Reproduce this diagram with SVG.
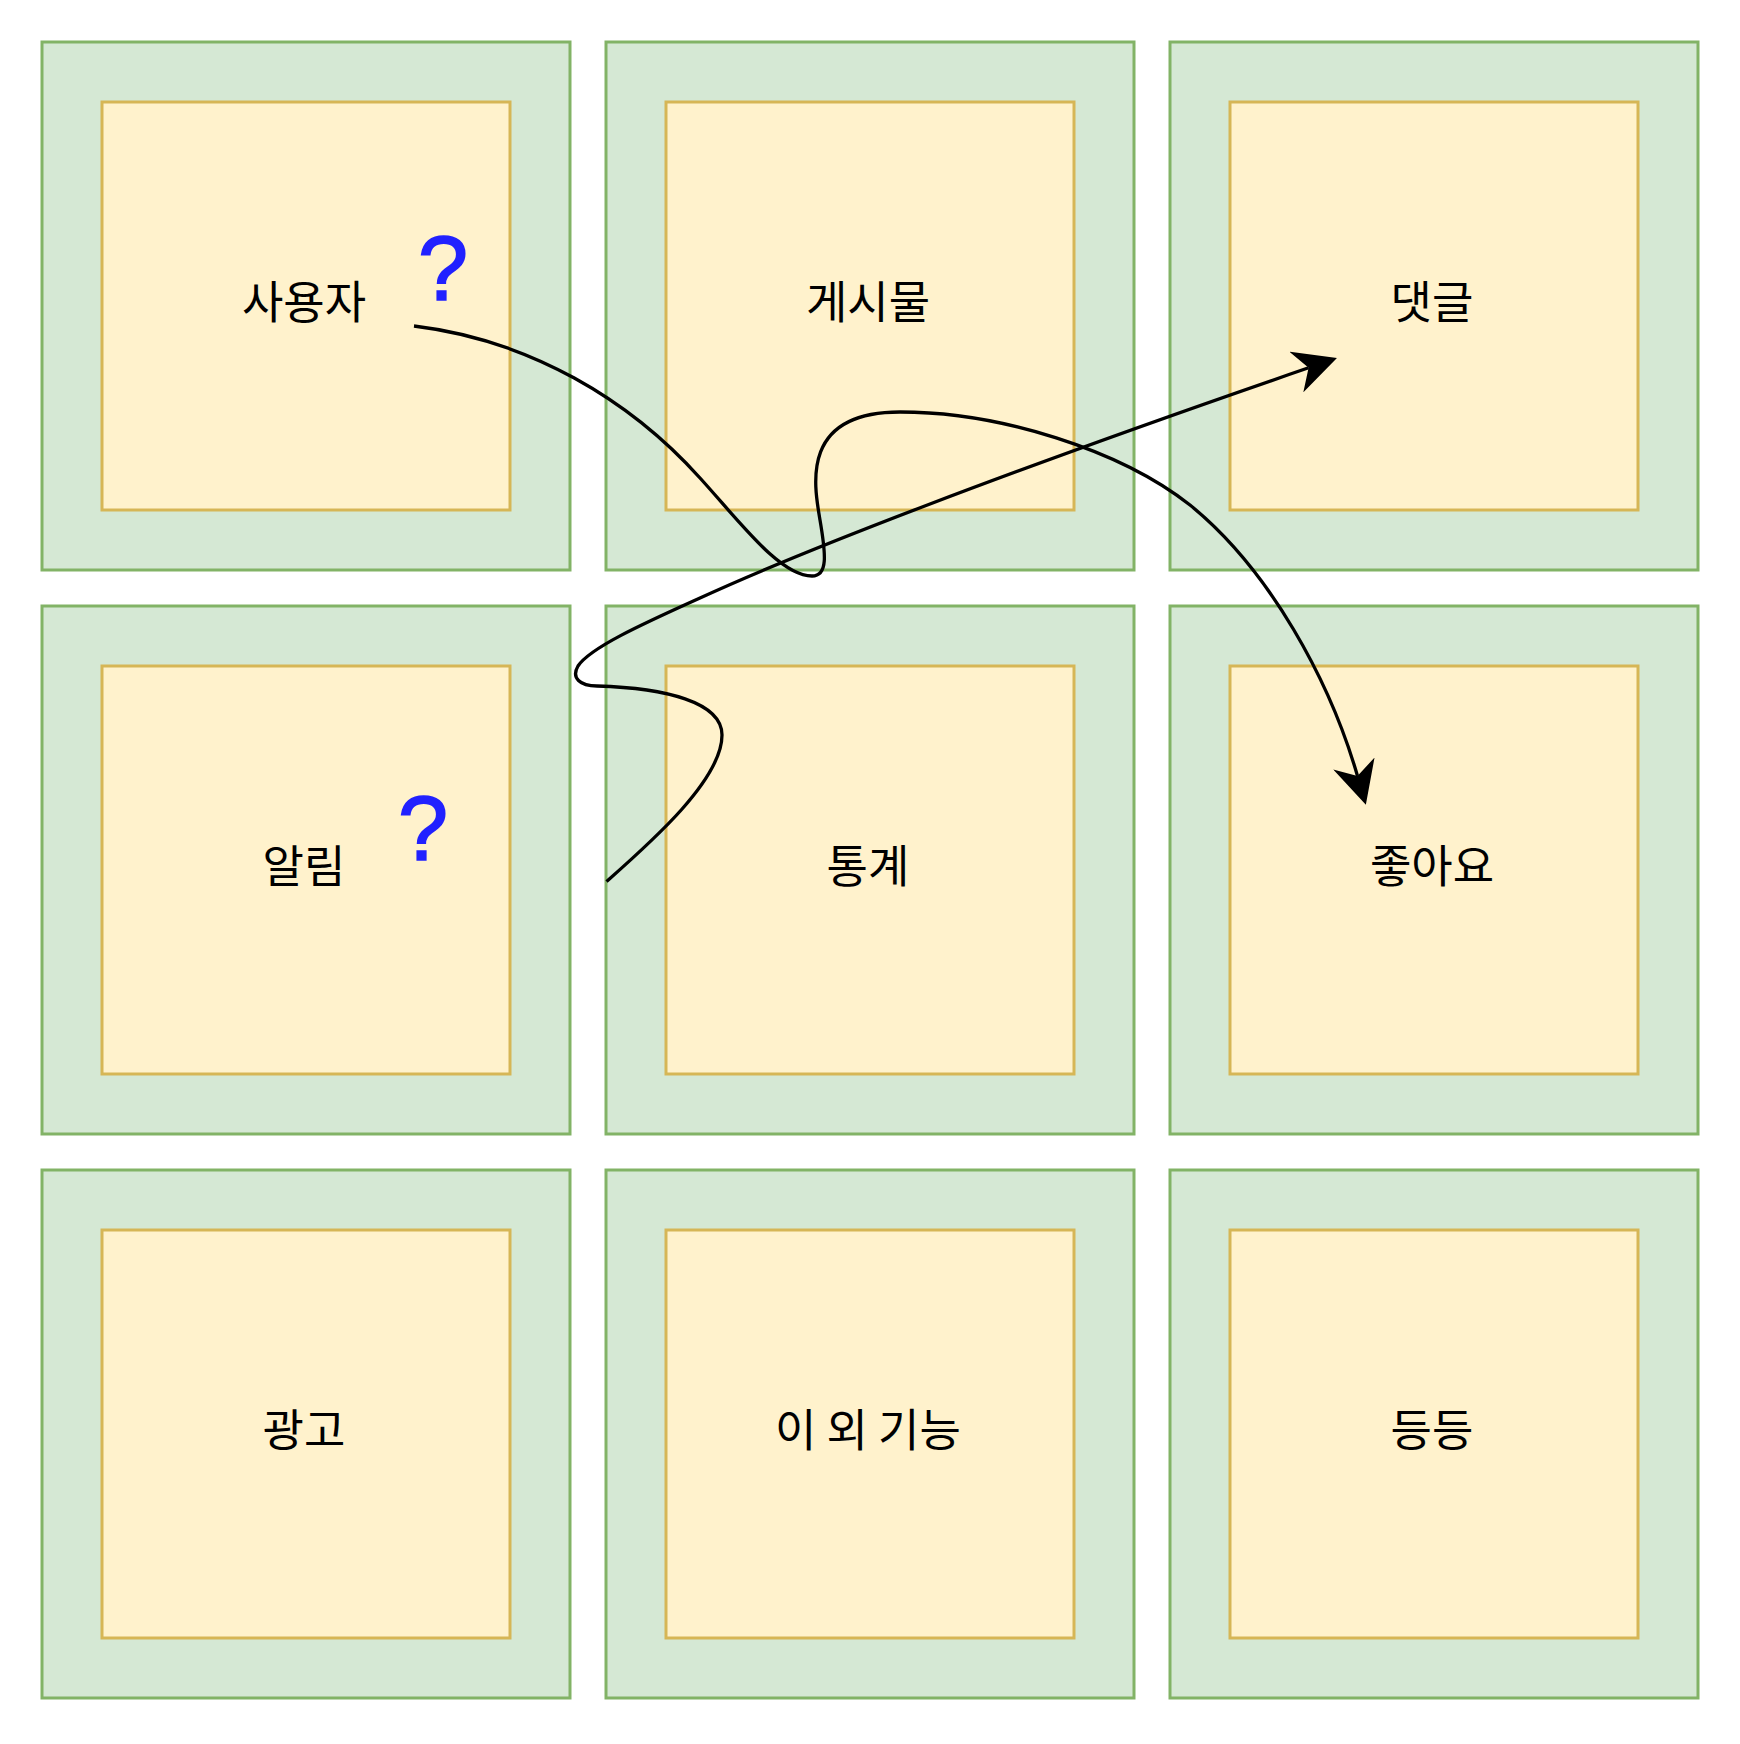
<svg xmlns="http://www.w3.org/2000/svg" width="1740" height="1744" viewBox="0 0 1740 1744">
<style>
.outer{fill:#d5e8d4;stroke:#82b366;stroke-width:3}
.inner{fill:#fff2cc;stroke:#d6b656;stroke-width:3}
.lbl{font-family:"Noto Sans CJK KR","Noto Sans",sans-serif;font-size:45px;font-weight:400;fill:#000;text-anchor:middle}
.q{font-family:"Liberation Sans",Arial,sans-serif;font-size:90px;fill:#2121ff;stroke:#2121ff;stroke-width:1.6;text-anchor:middle}
.edge{fill:none;stroke:#000;stroke-width:3.3}
</style>
<defs>
<marker id="arr" viewBox="0 0 43 43" refX="13" refY="21.5" markerWidth="43" markerHeight="43" markerUnits="userSpaceOnUse" orient="auto">
<path d="M43,21.5 L0,0 L13,21.5 L0,43 Z" fill="#000"/>
</marker>
</defs>
<rect width="1740" height="1744" fill="#fff"/>
<g id="node-user"><rect class="outer" x="42" y="42" width="528" height="528"/><rect class="inner" x="102" y="102" width="408" height="408"/><text class="lbl" x="304" y="319">사용자</text></g>
<g id="node-post"><rect class="outer" x="606" y="42" width="528" height="528"/><rect class="inner" x="666" y="102" width="408" height="408"/><text class="lbl" x="868" y="319">게시물</text></g>
<g id="node-comment"><rect class="outer" x="1170" y="42" width="528" height="528"/><rect class="inner" x="1230" y="102" width="408" height="408"/><text class="lbl" x="1432" y="319">댓글</text></g>
<g id="node-alarm"><rect class="outer" x="42" y="606" width="528" height="528"/><rect class="inner" x="102" y="666" width="408" height="408"/><text class="lbl" x="304" y="883">알림</text></g>
<g id="node-stats"><rect class="outer" x="606" y="606" width="528" height="528"/><rect class="inner" x="666" y="666" width="408" height="408"/><text class="lbl" x="868" y="883">통계</text></g>
<g id="node-like"><rect class="outer" x="1170" y="606" width="528" height="528"/><rect class="inner" x="1230" y="666" width="408" height="408"/><text class="lbl" x="1432" y="883">좋아요</text></g>
<g id="node-ad"><rect class="outer" x="42" y="1170" width="528" height="528"/><rect class="inner" x="102" y="1230" width="408" height="408"/><text class="lbl" x="304" y="1447">광고</text></g>
<g id="node-etc"><rect class="outer" x="606" y="1170" width="528" height="528"/><rect class="inner" x="666" y="1230" width="408" height="408"/><text class="lbl" x="868" y="1447">이 외 기능</text></g>
<g id="node-more"><rect class="outer" x="1170" y="1170" width="528" height="528"/><rect class="inner" x="1230" y="1230" width="408" height="408"/><text class="lbl" x="1432" y="1447">등등</text></g>
<g id="marks">
<text class="q" x="443" y="300">?</text>
<text class="q" x="423" y="860">?</text>
</g>
<g id="connectors">
<path class="edge" marker-end="url(#arr)" d="M414,326 C530,340 630,400 700,478 C740,522 780,576 812,576 C828,576 826,555 820,520 C814,485 800,412 900,412 C1000,412 1120,450 1190,505 C1270,570 1330,681 1357.5,776"/>
<path class="edge" marker-end="url(#arr)" d="M606.5,881.5 C650,843 722,780 722,735 C722,702 665,688 597,686 C580,686 571,678 578,666 C590,648 640,625 700,598 C800,552 1000,474 1308.6,367.8"/>
</g>
</svg>
